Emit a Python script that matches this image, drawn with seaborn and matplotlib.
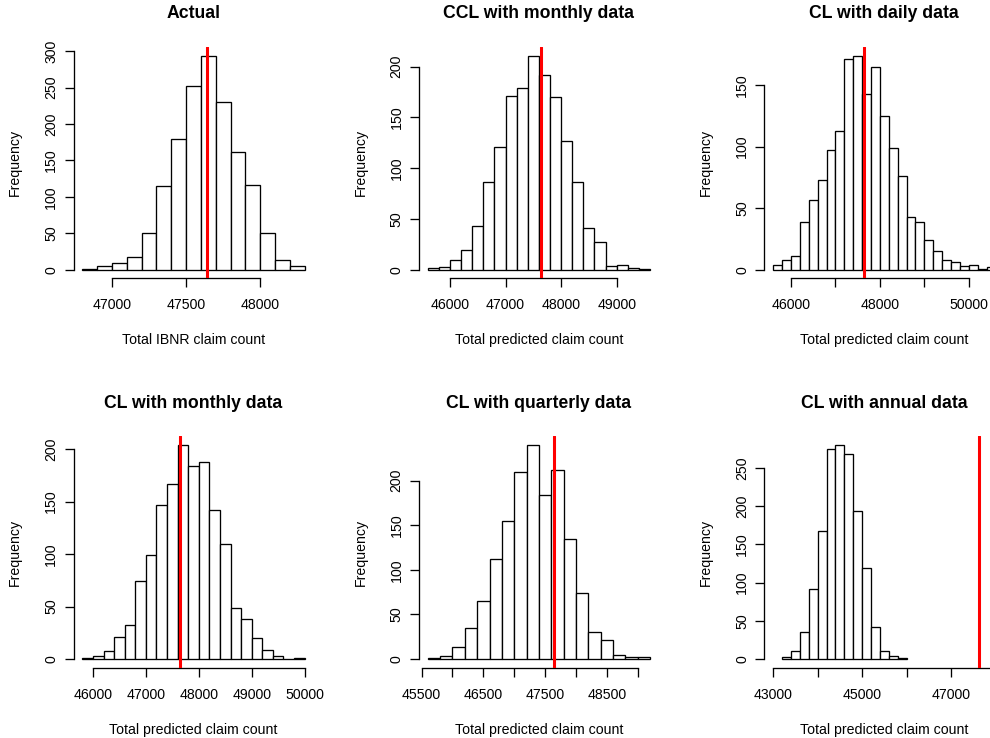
import numpy as np
import pandas as pd
import matplotlib
matplotlib.use("Agg")
import matplotlib.pyplot as plt
import seaborn as sns

# Simulated totals: bin start, bin width and counts per histogram
actual_start, actual_width = 46800, 100
actual_counts = [1, 5, 9, 17, 50, 115, 180, 252, 294, 230, 161, 117, 50, 14, 5]

ccl_monthly_start, ccl_monthly_width = 45600, 200
ccl_monthly_counts = [2, 3, 10, 19, 43, 86, 121, 171, 179, 211, 192, 170, 127,
                      86, 41, 27, 4, 5, 2, 1]

cl_daily_start, cl_daily_width = 45600, 200
cl_daily_counts = [4, 8, 11, 39, 57, 73, 97, 113, 171, 174, 143, 165, 125, 99,
                   76, 43, 39, 24, 15, 8, 6, 3, 4, 1, 2]

cl_monthly_start, cl_monthly_width = 45800, 200
cl_monthly_counts = [1, 3, 8, 21, 32, 74, 99, 147, 167, 204, 184, 188, 142, 110,
                     49, 38, 20, 9, 3, 0, 1]

cl_quarterly_start, cl_quarterly_width = 45600, 200
cl_quarterly_counts = [1, 3, 14, 35, 65, 112, 155, 210, 240, 184, 212, 135, 74,
                       30, 21, 5, 2, 2]

cl_annual_start, cl_annual_width = 43200, 200
cl_annual_counts = [3, 10, 35, 92, 167, 275, 280, 268, 193, 119, 42, 11, 4, 1]

# Observed total IBNR count (red reference line)
true_total = 47640

titles = ["Actual", "CCL with monthly data", "CL with daily data",
          "CL with monthly data", "CL with quarterly data", "CL with annual data"]
xlabels = ["Total IBNR claim count"] + ["Total predicted claim count"] * 5

x_ticks = [
    [47000, 47500, 48000],
    [46000, 47000, 48000, 49000],
    [46000, 47000, 48000, 49000, 50000],
    [46000, 47000, 48000, 49000, 50000],
    [45500, 46000, 46500, 47000, 47500, 48000, 48500, 49000],
    [43000, 44000, 45000, 46000, 47000, 48000],
]
x_ticklabels = [
    ["47000", "47500", "48000"],
    ["46000", "47000", "48000", "49000"],
    ["46000", "", "48000", "", "50000"],
    ["46000", "47000", "48000", "49000", "50000"],
    ["45500", "", "46500", "", "47500", "", "48500", ""],
    ["43000", "", "45000", "", "47000", ""],
]
y_ticks = [
    [0, 50, 100, 150, 200, 250, 300],
    [0, 50, 100, 150, 200],
    [0, 50, 100, 150],
    [0, 50, 100, 150, 200],
    [0, 50, 100, 150, 200],
    [0, 50, 100, 150, 200, 250],
]
# the annual panel uses a fixed x range so the observed total is visible
fixed_xlim = [None, None, None, None, None, (43000, 48000)]

hists = [
    (actual_start, actual_width, actual_counts),
    (ccl_monthly_start, ccl_monthly_width, ccl_monthly_counts),
    (cl_daily_start, cl_daily_width, cl_daily_counts),
    (cl_monthly_start, cl_monthly_width, cl_monthly_counts),
    (cl_quarterly_start, cl_quarterly_width, cl_quarterly_counts),
    (cl_annual_start, cl_annual_width, cl_annual_counts),
]

sns.set_style("ticks", rc={
    "axes.edgecolor": "black", "text.color": "black",
    "xtick.color": "black", "ytick.color": "black",
    "axes.labelcolor": "black",
})
plt.rcParams["font.family"] = ["Liberation Sans", "DejaVu Sans"]

W, H = 990, 738
fig = plt.figure(figsize=(W / 100, H / 100), dpi=100)
fig.patch.set_facecolor("white")

col_left = [73.5, 418.9, 764.3]
row_top = [47.0, 436.3]
pw, ph = 240.0, 231.3

TICK_FS = 10.2
TITLE_FS = 12.7
LW = 0.95

for i, (start, width, counts) in enumerate(hists):
    r, c = divmod(i, 3)
    ax = fig.add_axes([col_left[c] / W, 1 - (row_top[r] + ph) / H, pw / W, ph / H])
    counts = np.asarray(counts, dtype=float)
    edges = [float(start + width * k) for k in range(len(counts) + 1)]
    df = pd.DataFrame({"value": np.asarray(edges[:-1]) + width / 2,
                       "count": counts})
    sns.histplot(data=df, x="value", weights="count", bins=edges, ax=ax,
                 stat="count", color="white", edgecolor="black",
                 linewidth=LW, alpha=1)
    ax.axvline(true_total, color="#ff0000", linewidth=2.2, zorder=5)

    lo, hi = fixed_xlim[i] if fixed_xlim[i] else (edges[0], edges[-1])
    pad = 0.04 * (hi - lo)
    ax.set_xlim(lo - pad, hi + pad)
    ymax = counts.max()
    ax.set_ylim(-0.04 * ymax, 1.04 * ymax)

    for s in ("top", "right"):
        ax.spines[s].set_visible(False)
    for s in ("left", "bottom"):
        ax.spines[s].set_linewidth(LW)
    ax.spines["bottom"].set_bounds(x_ticks[i][0], x_ticks[i][-1])
    ax.spines["left"].set_bounds(y_ticks[i][0], y_ticks[i][-1])

    ax.set_xticks(x_ticks[i])
    ax.set_xticklabels(x_ticklabels[i])
    ax.set_yticks(y_ticks[i])
    ax.set_yticklabels([str(v) for v in y_ticks[i]])
    ax.tick_params(axis="both", direction="out", length=6.5, width=LW,
                   labelsize=TICK_FS)
    ax.tick_params(axis="x", pad=8)
    ax.tick_params(axis="y", pad=4.5)
    for lbl in ax.get_yticklabels():
        lbl.set_rotation(90)
        lbl.set_ha("right")
        lbl.set_va("center")

    ax.set_xlabel(xlabels[i], fontsize=TICK_FS)
    ax.xaxis.set_label_coords(0.5, -66 / ph)
    ax.xaxis.label.set_va("baseline")
    ax.set_ylabel("Frequency", fontsize=TICK_FS)
    ax.yaxis.set_label_coords(-58.5 / pw, 0.5)
    ax.yaxis.label.set_va("center")

    ax.text(0.5, 1 + 28.7 / ph, titles[i], transform=ax.transAxes,
            ha="center", va="baseline", fontsize=TITLE_FS, fontweight="bold")

fig.savefig("out.png", dpi=100, facecolor="white")
